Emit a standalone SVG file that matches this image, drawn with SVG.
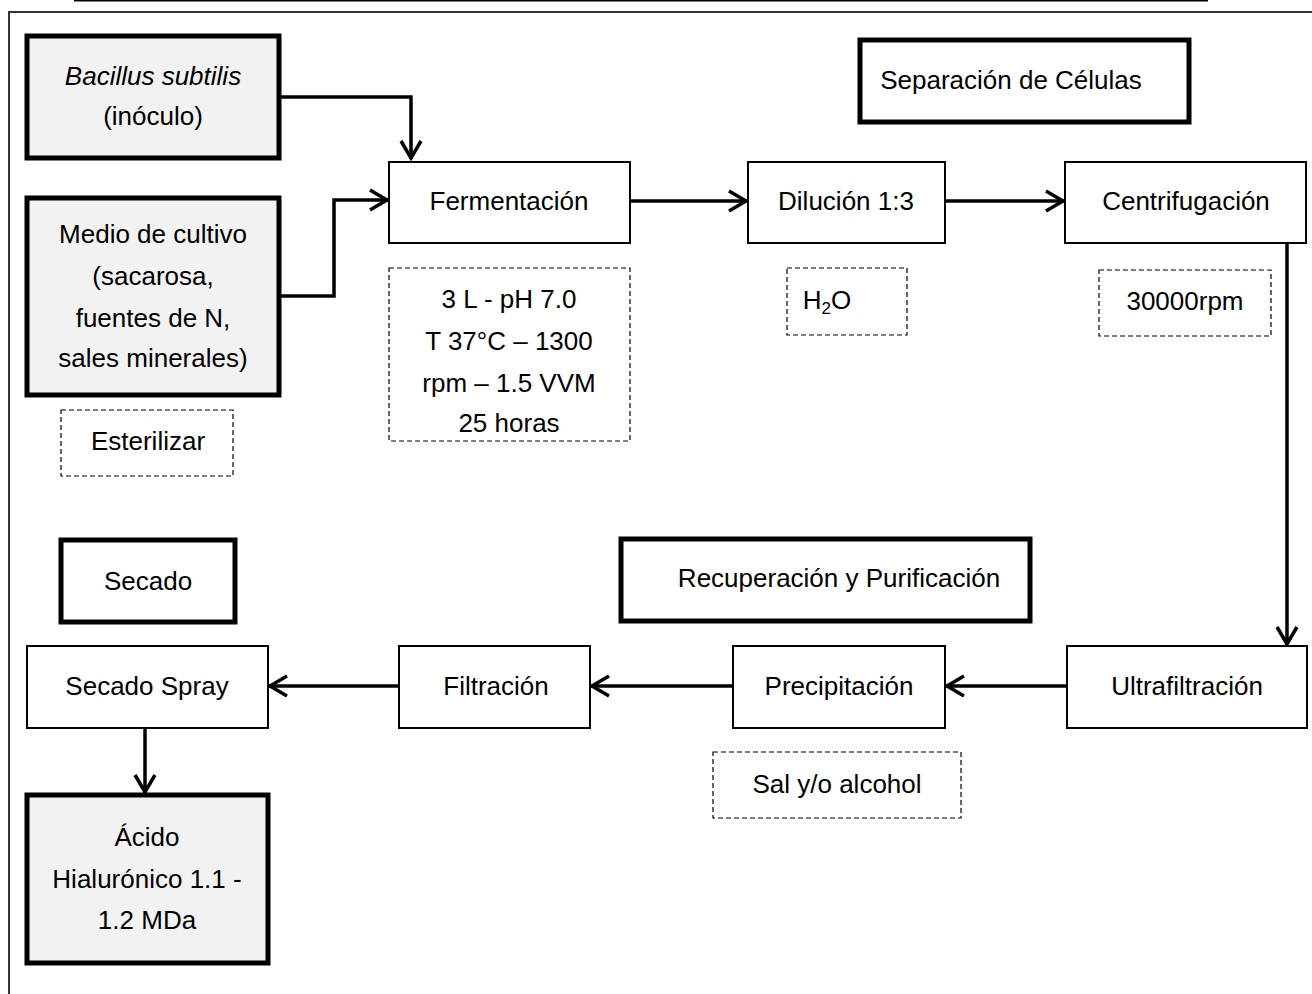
<svg xmlns="http://www.w3.org/2000/svg" width="1312" height="994" viewBox="0 0 1312 994">
<defs>
<marker id="ah" viewBox="0 0 22 24" refX="20" refY="12" markerWidth="22" markerHeight="24" markerUnits="userSpaceOnUse" orient="auto">
<path d="M2,2 L19,12 L2,22" fill="none" stroke="#000" stroke-width="3.5" stroke-linejoin="miter"/>
</marker>
<style>
text{font-family:"Liberation Sans",Arial,sans-serif;font-size:26px;fill:#000;text-anchor:middle}
.thick{fill:#fff;stroke:#000;stroke-width:5}
.gray{fill:#f2f2f2;stroke:#000;stroke-width:5}
.box{fill:#fff;stroke:#000;stroke-width:2}
.dash{fill:#fff;stroke:#000;stroke-width:1.2;stroke-dasharray:5,3}
.con{fill:none;stroke:#000;stroke-width:3.5}
</style>
</defs>
<rect width="1312" height="994" fill="#fff"/>
<line x1="74" y1="0.5" x2="1208" y2="0.5" stroke="#000" stroke-width="2"/>
<path d="M1312,12 H9 V994" fill="none" stroke="#333" stroke-width="2"/>

<g id="connectors">
<path class="con" d="M281,97 H411 V159" marker-end="url(#ah)"/>
<path class="con" d="M281,296 H334 V200 H388" marker-end="url(#ah)"/>
<path class="con" d="M630,201 H747" marker-end="url(#ah)"/>
<path class="con" d="M945,201 H1064" marker-end="url(#ah)"/>
<path class="con" d="M1287,243 V645" marker-end="url(#ah)"/>
<path class="con" d="M1067,686 H946" marker-end="url(#ah)"/>
<path class="con" d="M733,686 H591" marker-end="url(#ah)"/>
<path class="con" d="M399,686 H269" marker-end="url(#ah)"/>
<path class="con" d="M145,728 V793" marker-end="url(#ah)"/>
</g>

<g id="bacillus">
<rect class="gray" x="27" y="36" width="252" height="122"/>
<text x="153" y="85"><tspan font-style="italic">Bacillus subtilis</tspan></text>
<text x="153" y="125">(inóculo)</text>
</g>
<g id="medio">
<rect class="gray" x="27" y="198" width="252" height="197"/>
<text x="153" y="243">Medio de cultivo</text>
<text x="153" y="285">(sacarosa,</text>
<text x="153" y="327">fuentes de N,</text>
<text x="153" y="367">sales minerales)</text>
</g>
<g id="esterilizar">
<rect class="dash" x="61" y="410" width="172" height="66"/>
<text x="148" y="450">Esterilizar</text>
</g>
<g id="fermentacion">
<rect class="box" x="389" y="162" width="241" height="81"/>
<text x="509" y="210">Fermentación</text>
</g>
<g id="fermentacion-params">
<rect class="dash" x="389" y="268" width="241" height="173"/>
<text x="509" y="308">3 L - pH 7.0</text>
<text x="509" y="350">T 37°C – 1300</text>
<text x="509" y="392">rpm – 1.5 VVM</text>
<text x="509" y="432">25 horas</text>
</g>
<g id="dilucion">
<rect class="box" x="748" y="162" width="197" height="81"/>
<text x="846" y="210">Dilución 1:3</text>
</g>
<g id="h2o">
<rect class="dash" x="787" y="268" width="120" height="67"/>
<text x="827" y="309">H<tspan font-size="17" dy="5">2</tspan><tspan dy="-5">O</tspan></text>
</g>
<g id="separacion">
<rect class="thick" x="860" y="40" width="329" height="82"/>
<text x="1011" y="89" font-size="22">Separación de Células</text>
</g>
<g id="centrifugacion">
<rect class="box" x="1065" y="162" width="241" height="81"/>
<text x="1186" y="210">Centrifugación</text>
</g>
<g id="rpm">
<rect class="dash" x="1099" y="270" width="172" height="66"/>
<text x="1185" y="310">30000rpm</text>
</g>
<g id="secado">
<rect class="thick" x="61" y="540" width="174" height="82"/>
<text x="148" y="590">Secado</text>
</g>
<g id="recuperacion">
<rect class="thick" x="621" y="539" width="409" height="82"/>
<text x="839" y="587">Recuperación y Purificación</text>
</g>
<g id="secado-spray">
<rect class="box" x="27" y="646" width="241" height="82"/>
<text x="147" y="695">Secado Spray</text>
</g>
<g id="filtracion">
<rect class="box" x="399" y="646" width="191" height="82"/>
<text x="496" y="695">Filtración</text>
</g>
<g id="precipitacion">
<rect class="box" x="733" y="646" width="212" height="82"/>
<text x="839" y="695">Precipitación</text>
</g>
<g id="ultrafiltracion">
<rect class="box" x="1067" y="646" width="240" height="82"/>
<text x="1187" y="695">Ultrafiltración</text>
</g>
<g id="sal">
<rect class="dash" x="713" y="752" width="248" height="66"/>
<text x="837" y="793">Sal y/o alcohol</text>
</g>
<g id="acido">
<rect class="gray" x="27" y="795" width="241" height="168"/>
<text x="147" y="846">Ácido</text>
<text x="147" y="888">Hialurónico 1.1 -</text>
<text x="147" y="929">1.2 MDa</text>
</g>
</svg>
